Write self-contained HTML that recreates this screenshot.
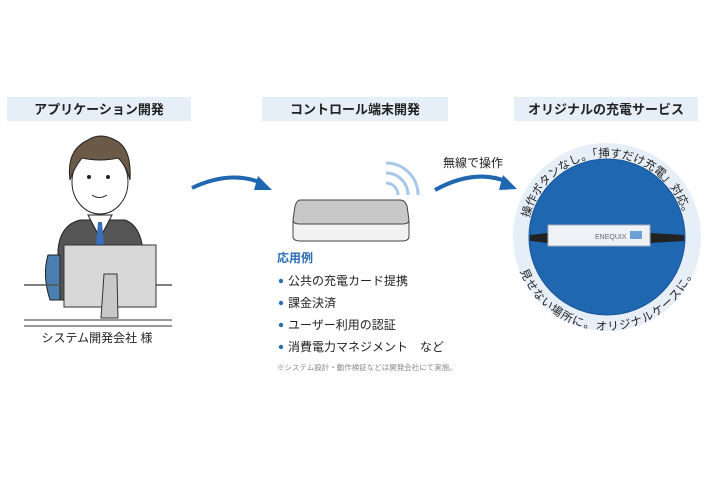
<!DOCTYPE html>
<html><head><meta charset="utf-8"><style>
body{margin:0;width:710px;height:474px;background:#fff;overflow:hidden;font-family:"Liberation Sans","Noto Sans CJK JP",sans-serif}
</style></head><body>
<svg width="710" height="474" viewBox="0 0 710 474" xmlns="http://www.w3.org/2000/svg" font-family="Liberation Sans, Noto Sans CJK JP, sans-serif">
<defs>
<path id="top" d="M 527 237 A 80 80 0 0 1 687 237"/>
<path id="bot" d="M 521 237 A 86 86 0 0 0 693 237"/>
</defs>
<!-- headers -->
<rect x="7" y="97" width="184" height="24" fill="#e6eef7"/>
<text x="99" y="114" font-size="13" font-weight="bold" text-anchor="middle" fill="#222">アプリケーション開発</text>
<rect x="262" y="97" width="186" height="24" fill="#e6eef7"/>
<text x="355" y="114" font-size="13" font-weight="bold" text-anchor="middle" fill="#222">コントロール端末開発</text>
<rect x="514" y="97" width="184" height="24" fill="#e6eef7"/>
<text x="606" y="114" font-size="13" font-weight="bold" text-anchor="middle" fill="#222">オリジナルの充電サービス</text>

<!-- person -->
<path d="M58 300 L58 250 Q60 225 80 220 L125 220 Q140 225 143 250 L143 300 Z" fill="#555" stroke="#222"/>
<path d="M48 255 Q42 275 50 300 L60 300 L60 255 Z" fill="#4a7fb0" stroke="#222"/>
<path d="M88 215 L100 238 L112 215 Z" fill="#fff" stroke="#222"/>
<path d="M98 222 L102 222 L104 245 L100 250 L96 245 Z" fill="#3a6fc0"/>
<ellipse cx="100" cy="182" rx="28" ry="32" fill="#fff" stroke="#222"/>
<path d="M70 180 Q66 150 88 140 Q100 132 115 140 Q132 148 130 180 Q126 165 118 158 Q100 162 82 158 Q74 168 70 180 Z" fill="#6b5a48" stroke="#222"/>
<circle cx="89" cy="177" r="2" fill="#222"/><circle cx="108" cy="177" r="2" fill="#222"/>
<path d="M92 195 Q99 200 107 195" fill="none" stroke="#222"/>
<line x1="24" y1="285" x2="172" y2="285" stroke="#555" stroke-width="1.5"/>
<rect x="64" y="245" width="92" height="62" fill="#d8d8d8" stroke="#333"/>
<path d="M104 274 L117 274 L118 318 L101 318 Z" fill="#c8c8c8" stroke="#333"/>
<line x1="24" y1="320" x2="172" y2="320" stroke="#333"/>
<line x1="24" y1="326" x2="172" y2="326" stroke="#333"/>
<text x="97" y="342" font-size="12" text-anchor="middle" fill="#222">システム開発会社 様</text>

<!-- arrows -->
<path d="M192 188 Q230 170 262 183" fill="none" stroke="#1f67b1" stroke-width="4"/>
<path d="M258 176 L272 190 L254 190 Z" fill="#1f67b1"/>
<path d="M435 190 Q475 168 508 182" fill="none" stroke="#1f67b1" stroke-width="4"/>
<path d="M503 175 L517 189 L499 190 Z" fill="#1f67b1"/>
<text x="473" y="167" font-size="12" text-anchor="middle" fill="#222">無線で操作</text>

<!-- router -->
<path d="M293 222 L293 236 Q293 241 300 241 L402 241 Q409 241 409 236 L409 222 Z" fill="#f2f2f2" stroke="#444"/>
<path d="M300 200 L400 200 Q405 200 407 206 L409 220 Q409 224 402 224 L300 224 Q293 224 293 220 L295 206 Q297 200 300 200 Z" fill="#c8c8c8" stroke="#444"/>
<g fill="none" stroke="#a8c8e8" stroke-width="3">
<path d="M386 183 A12 12 0 0 1 398 195"/>
<path d="M386 173 A22 22 0 0 1 408 195"/>
<path d="M386 163 A32 32 0 0 1 418 195"/>
</g>

<!-- list -->
<text x="277" y="262" font-size="12" font-weight="bold" fill="#2a6db5">応用例</text>
<g font-size="12" fill="#222">
<circle cx="281" cy="281" r="2.2" fill="#2a6db5"/><text x="288" y="285">公共の充電カード提携</text>
<circle cx="281" cy="303" r="2.2" fill="#2a6db5"/><text x="288" y="307">課金決済</text>
<circle cx="281" cy="325" r="2.2" fill="#2a6db5"/><text x="288" y="329">ユーザー利用の認証</text>
<circle cx="281" cy="347" r="2.2" fill="#2a6db5"/><text x="288" y="351">消費電力マネジメント　など</text>
</g>
<text x="277" y="370" font-size="7.5" fill="#888">※システム設計・動作検証などは開発会社にて実施。</text>

<!-- circle -->
<circle cx="607" cy="237" r="94" fill="#e6eef7"/>
<circle cx="607" cy="237" r="78" fill="#1f67b1" stroke="#1a5596" stroke-width="1"/>
<path d="M530 235 L548 233 L548 243 L530 241 Z" fill="#222"/>
<path d="M650 233 L684 235 L684 241 L650 243 Z" fill="#222"/>
<rect x="548" y="225" width="102" height="21" fill="#eef2f6" stroke="#aab"/>
<text x="595" y="239" font-size="7" fill="#667">ENEQUIX</text>
<rect x="630" y="231" width="12" height="8" fill="#6ea0d8"/>
<text font-size="11.5" fill="#222"><textPath href="#top" startOffset="50%" text-anchor="middle">操作ボタンなし。「挿すだけ充電」対応。</textPath></text>
<text font-size="11.5" fill="#222"><textPath href="#bot" startOffset="50%" text-anchor="middle" dominant-baseline="hanging">見せない場所に。オリジナルケースに。</textPath></text>
</svg>
</body></html>
